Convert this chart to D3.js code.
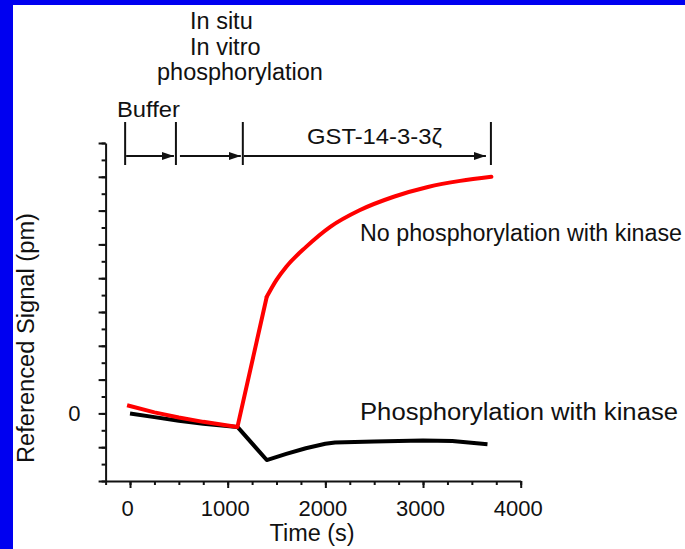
<!DOCTYPE html>
<html>
<head>
<meta charset="utf-8">
<script src="https://cdn.jsdelivr.net/npm/d3@7/dist/d3.min.js"></script>
<style>
  html, body { margin: 0; padding: 0; background: #0000f0; }
  svg { display: block; }
  text { font-family: "Liberation Sans", Arial, sans-serif; fill: #111; }
</style>
</head>
<body>
<script>
// Data (time in s, signal in arbitrary pm units)
var redTime   = [-30, 250, 500, 750, 1000, 1100, 1400, 1500, 1600, 1800, 2050, 2350, 2700, 3050, 3380, 3700];
var redValue  = [0.24, 0.03, -0.12, -0.25, -0.36, -0.40, 3.45, 3.95, 4.34, 4.92, 5.52, 6.01, 6.41, 6.70, 6.88, 7.00];
var redKink = 6; // index where the smooth rise begins

var blackTime  = [0, 250, 500, 750, 1100, 1400, 1600, 1800, 2000, 2100, 2500, 3000, 3300, 3660];
var blackValue = [0, -0.11, -0.22, -0.31, -0.40, -1.38, -1.20, -1.03, -0.90, -0.86, -0.83, -0.80, -0.82, -0.91];

// Phase boundaries (s) for the top annotation
var phaseTimes = [-50, 470, 1155, 3695];

var xTicks = [0, 1000, 2000, 3000, 4000];
var yTicks = [-2, -1, 0, 1, 2, 3, 4, 5, 6, 7, 8];
var yLabelTicks = [0];

var width = 685, height = 549;

var svg = d3.select("body").append("svg")
    .attr("width", width)
    .attr("height", height);

// White panel inside the blue frame
svg.append("rect")
    .attr("x", 13).attr("y", 5)
    .attr("width", width - 13).attr("height", height - 5)
    .attr("fill", "#fff");

var x = d3.scaleLinear().domain([-250, 4000]).range([105.6, 520.7]);
var y = d3.scaleLinear().domain([-2, 8]).range([481, 143]);

// ----- Оси -----
var minorX = d3.range(-250, 4001, 250);
var minorY = d3.range(-2, 8.01, 0.5);

svg.append("g")
    .attr("transform", "translate(0," + y(-2) + ")")
    .call(d3.axisBottom(x).tickValues(minorX).tickSize(4).tickSizeOuter(0).tickFormat(""))
    .call(function(g) { g.selectAll("line,path").attr("stroke", "#111").attr("stroke-width", 2); });

svg.append("g")
    .attr("transform", "translate(0," + y(-2) + ")")
    .call(d3.axisBottom(x).tickValues(xTicks).tickSize(7).tickSizeOuter(0).tickPadding(12)
        .tickFormat(d3.format("d")))
    .call(function(g) {
        g.select(".domain").remove();
        g.selectAll("line").attr("stroke", "#111").attr("stroke-width", 2);
        g.selectAll("text").attr("font-size", 22).attr("dx", -3)
            .style("font-family", '"Liberation Sans", Arial, sans-serif').attr("fill", "#111");
    });

svg.append("g")
    .attr("transform", "translate(" + x(-250) + ",0)")
    .call(d3.axisLeft(y).tickValues(minorY).tickSize(4).tickSizeOuter(0).tickFormat(""))
    .call(function(g) { g.selectAll("line,path").attr("stroke", "#111").attr("stroke-width", 2); });

svg.append("g")
    .attr("transform", "translate(" + x(-250) + ",0)")
    .call(d3.axisLeft(y).tickValues(yTicks).tickSize(7).tickSizeOuter(0).tickPadding(18)
        .tickFormat(function(d) { return yLabelTicks.indexOf(d) >= 0 ? d : ""; }))
    .call(function(g) {
        g.select(".domain").remove();
        g.selectAll("line").attr("stroke", "#111").attr("stroke-width", 2);
        g.selectAll("text").attr("font-size", 22)
            .style("font-family", '"Liberation Sans", Arial, sans-serif').attr("fill", "#111");
    });

// Подписи осей
svg.append("text")
    .attr("x", 312).attr("y", 541)
    .attr("text-anchor", "middle")
    .attr("font-size", 23)
    .attr("textLength", 85).attr("lengthAdjust", "spacingAndGlyphs")
    .text("Time (s)");

svg.append("text")
    .attr("transform", "translate(34,338) rotate(-90)")
    .attr("text-anchor", "middle")
    .attr("font-size", 23)
    .attr("textLength", 250).attr("lengthAdjust", "spacingAndGlyphs")
    .text("Referenced Signal (pm)");

// ----- Линии -----
var line = d3.line()
    .x(function(d) { return x(d[0]); })
    .y(function(d) { return y(d[1]); });

var blackData = blackTime.map(function(t, i) { return [t, blackValue[i]]; });
var redData = redTime.map(function(t, i) { return [t, redValue[i]]; });

svg.append("path")
    .datum(blackData)
    .attr("d", line)
    .attr("fill", "none")
    .attr("stroke", "#000")
    .attr("stroke-width", 4)
    .attr("stroke-linejoin", "round");

// Красная: прямой участок до излома, дальше плавная кривая
svg.append("path")
    .datum(redData.slice(0, redKink + 1))
    .attr("d", line)
    .attr("fill", "none")
    .attr("stroke", "#ff0000")
    .attr("stroke-width", 4)
    .attr("stroke-linejoin", "round");

svg.append("path")
    .datum(redData.slice(redKink))
    .attr("d", d3.line()
        .x(function(d) { return x(d[0]); })
        .y(function(d) { return y(d[1]); })
        .curve(d3.curveMonotoneX))
    .attr("fill", "none")
    .attr("stroke", "#ff0000")
    .attr("stroke-width", 4)
    .attr("stroke-linecap", "round");

svg.append("text")
    .attr("x", 360).attr("y", 241)
    .attr("font-size", 23)
    .attr("textLength", 322).attr("lengthAdjust", "spacingAndGlyphs")
    .text("No phosphorylation with kinase");

svg.append("text")
    .attr("x", 360).attr("y", 420)
    .attr("font-size", 23)
    .attr("textLength", 318).attr("lengthAdjust", "spacingAndGlyphs")
    .text("Phosphorylation with kinase");

// ----- Фазы эксперимента сверху -----
var barTop = 122, barBottom = 165, arrowY = 156;

svg.selectAll(".phase-bar")
    .data(phaseTimes)
    .join("line")
    .attr("class", "phase-bar")
    .attr("x1", function(d) { return x(d); })
    .attr("x2", function(d) { return x(d); })
    .attr("y1", barTop).attr("y2", barBottom)
    .attr("stroke", "#111").attr("stroke-width", 2);

svg.append("defs").append("marker")
    .attr("id", "head")
    .attr("viewBox", "0 0 12 8")
    .attr("refX", 12).attr("refY", 4)
    .attr("markerWidth", 12).attr("markerHeight", 8)
    .attr("markerUnits", "userSpaceOnUse")
    .attr("orient", "auto")
    .append("path")
    .attr("d", "M0,0L12,4L0,8Z")
    .attr("fill", "#111");

var arrows = d3.pairs(phaseTimes);
svg.selectAll(".phase-arrow")
    .data(arrows)
    .join("line")
    .attr("class", "phase-arrow")
    .attr("x1", function(d, i) { return x(d[0]) + (i == 1 ? 4 : 1); })
    .attr("x2", function(d, i) { return x(d[1]) - (i == 2 ? 5 : 2); })
    .attr("y1", arrowY).attr("y2", arrowY)
    .attr("stroke", "#111").attr("stroke-width", 2)
    .attr("marker-end", "url(#head)");

svg.append("text").attr("x", 117).attr("y", 117).attr("font-size", 22)
    .attr("textLength", 63).attr("lengthAdjust", "spacingAndGlyphs").text("Buffer");
svg.append("text").attr("x", 307).attr("y", 144).attr("font-size", 22)
    .attr("textLength", 135).attr("lengthAdjust", "spacingAndGlyphs").text("GST-14-3-3ζ");

svg.append("text").attr("x", 190).attr("y", 29).attr("font-size", 23.5).text("In situ");
svg.append("text").attr("x", 190).attr("y", 55).attr("font-size", 23.5).text("In vitro");
svg.append("text").attr("x", 157).attr("y", 80).attr("font-size", 23.5).text("phosphorylation");
</script>
</body>
</html>
